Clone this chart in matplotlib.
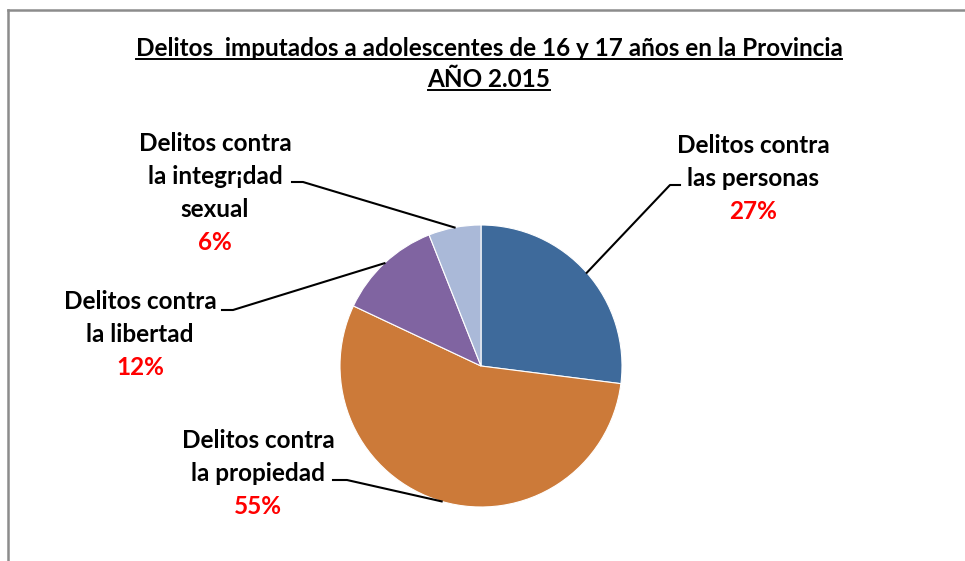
import numpy as np
import matplotlib
matplotlib.use("Agg")
import matplotlib.pyplot as plt
from matplotlib.lines import Line2D

# data
categories = ["Delitos contra\nlas personas",
              "Delitos contra\nla propiedad",
              "Delitos contra\nla libertad",
              "Delitos contra\nla integr¡dad\nsexual"]
values = [27, 55, 12, 6]
colors = ["#3E6A9B", "#CC7A39", "#8064A1", "#AAB9D8"]
title_lines = ["Delitos  imputados a adolescentes de 16 y 17 años en la Provincia",
               "AÑO 2.015"]

W, H = 965, 561
plt.rcParams['font.family'] = ['Lato', 'DejaVu Sans']

fig = plt.figure(figsize=(W / 100, H / 100), dpi=100)
ax = fig.add_axes([0, 0, 1, 1])

# pie drawn in pixel-like coords (y flipped -> mirror direction)
cx, cy, r = 481, 366, 141
wedges, _ = ax.pie(values, colors=colors, startangle=-90, counterclock=True,
                   center=(cx, cy), radius=r, frame=True,
                   wedgeprops=dict(linewidth=0.8, edgecolor='white'))
ax.set_xlim(0, W)
ax.set_ylim(H, 0)
ax.axis('off')

# label layout: (text center x, first line y, elbow x, line end x, line y)
label_pos = [
    (753, 145, 670, 680, 185),
    (258, 440, 347, 333, 480),
    (140, 301, 233, 222, 310),
    (215, 143, 303, 292, 182),
]
step = 33
fsize = 17.5

for w, cat, val, (tx, ty, ex, lx, ly) in zip(wedges, categories, values, label_pos):
    mid = np.deg2rad((w.theta1 + w.theta2) / 2)
    axp = cx + r * np.cos(mid)
    ayp = cy + r * np.sin(mid)
    ax.plot([axp, ex, lx], [ayp, ly, ly], color='black', lw=1.5)
    lines = cat.split('\n')
    for i, s in enumerate(lines):
        ax.text(tx, ty + i * step, s, ha='center', va='center',
                fontsize=fsize, fontweight='bold', color='black')
    ax.text(tx, ty + len(lines) * step, f"{val}%", ha='center', va='center',
            fontsize=fsize, fontweight='bold', color='#FF0000')

# title with underline
title_y = [48, 79]
tobjs = []
for s, y in zip(title_lines, title_y):
    t = ax.text(489, y, s, ha='center', va='center', fontsize=17.5,
                fontweight='bold', color='black')
    tobjs.append(t)

fig.canvas.draw()
renderer = fig.canvas.get_renderer()
inv = ax.transData.inverted()
for t in tobjs:
    bb = t.get_window_extent(renderer)
    (x0, y0), (x1, y1) = inv.transform([(bb.x0, bb.y0), (bb.x1, bb.y1)])
    ax.plot([x0, x1], [y0 - 1, y0 - 1], color='black', lw=1.4)

# chart border (top and left visible)
fig.add_artist(Line2D([8 / W, 1], [1 - 10 / H, 1 - 10 / H], color='#8C8C8C', lw=1.8,
                      transform=fig.transFigure))
fig.add_artist(Line2D([8 / W, 8 / W], [0, 1 - 10 / H], color='#8C8C8C', lw=1.8,
                      transform=fig.transFigure))

fig.savefig("out.png", dpi=100)
